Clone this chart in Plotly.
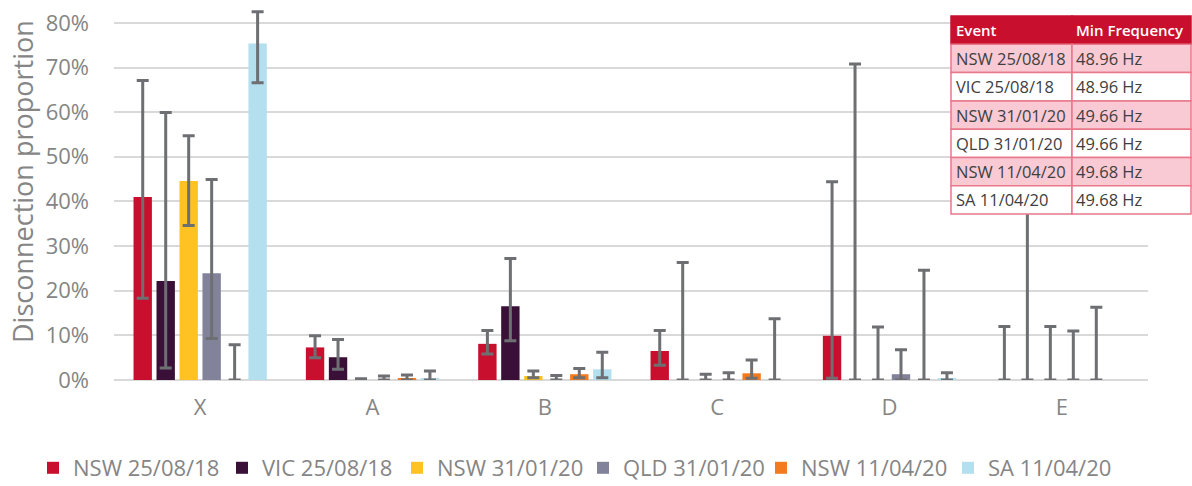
import plotly.graph_objects as go

# ---------------- data ----------------
categories = ["X", "A", "B", "C", "D", "E"]
series_names = ["NSW 25/08/18", "VIC 25/08/18", "NSW 31/01/20",
                "QLD 31/01/20", "NSW 11/04/20", "SA 11/04/20"]
series_colors = ["#C8102E", "#3A1038", "#FFC222", "#82839B", "#F47A20", "#B3DFEE"]

# values (%)  (None = no data)
nsw_250818 = [41.0, 7.3, 8.1, 6.5, 9.9, 0.0]
vic_250818 = [22.2, 5.1, 16.5, 0.0, 0.0, 0.0]
nsw_310120 = [44.6, 0.0, 0.9, 0.0, 0.0, 0.0]
qld_310120 = [23.9, 0.0, 0.0, 0.0, 1.3, 0.0]
nsw_110420 = [0.0, 0.3, 1.3, 1.5, 0.0, 0.0]
sa_110420 = [75.4, 0.3, 2.4, 0.0, 0.4, None]

# upper bounds of error bars (%)
nsw_250818_hi = [67.1, 9.9, 11.1, 11.1, 44.4, 12.0]
vic_250818_hi = [59.9, 9.1, 27.2, 26.3, 70.8, 60.0]
nsw_310120_hi = [54.7, 0.3, 2.0, 1.3, 11.9, 12.0]
qld_310120_hi = [44.9, 0.9, 1.0, 1.6, 6.8, 11.0]
nsw_110420_hi = [7.9, 1.1, 2.6, 4.5, 24.6, 16.3]
sa_110420_hi = [82.5, 2.0, 6.2, 13.7, 1.6, None]

# lower bounds of error bars (%)
nsw_250818_lo = [18.3, 5.0, 5.8, 3.3, 0.4, 0.0]
vic_250818_lo = [2.7, 2.4, 8.8, 0.0, 0.0, 0.0]
nsw_310120_lo = [34.6, 0.0, 0.5, 0.0, 0.0, 0.0]
qld_310120_lo = [9.3, 0.0, 0.0, 0.0, 0.0, 0.0]
nsw_110420_lo = [0.0, 0.0, 0.5, 0.4, 0.0, 0.0]
sa_110420_lo = [66.6, 0.0, 0.5, 0.0, 0.0, None]

values = [nsw_250818, vic_250818, nsw_310120, qld_310120, nsw_110420, sa_110420]
highs = [nsw_250818_hi, vic_250818_hi, nsw_310120_hi, qld_310120_hi, nsw_110420_hi, sa_110420_hi]
lows = [nsw_250818_lo, vic_250818_lo, nsw_310120_lo, qld_310120_lo, nsw_110420_lo, sa_110420_lo]

y_ticks = [0, 10, 20, 30, 40, 50, 60, 70, 80]
y_tick_labels = ["0%", "10%", "20%", "30%", "40%", "50%", "60%", "70%", "80%"]

table_events = series_names
table_freqs = ["48.96 Hz", "48.96 Hz", "49.66 Hz", "49.66 Hz", "49.68 Hz", "49.68 Hz"]

# ---------------- figure ----------------
W, H = 1192, 486
ML, MR, MT, MB = 114, 44, 5, 106
PW, PH = W - ML - MR, H - MT - MB

FONT = "Open Sans"
GREY = "#858585"

def px_x(px):
    return (px - ML) / PW

def px_y(py):
    return (H - MB - py) / PH

legend_widths = [144, 130, 141, 133, 142, 140]

fig = go.Figure()
for name, col, v, hi, lo, lw in zip(series_names, series_colors, values, highs, lows, legend_widths):
    plus = [None if (h is None or val is None) else h - val for h, val in zip(hi, v)]
    minus = [None if (l is None or val is None) else val - l for l, val in zip(lo, v)]
    fig.add_trace(go.Bar(
        name=name, x=categories, y=v, marker=dict(color=col, line=dict(width=0)),
        legendwidth=lw,
        error_y=dict(type="data", symmetric=False, array=plus, arrayminus=minus,
                     color="#6E6F73", thickness=3, width=6),
    ))

fig.update_layout(
    width=W, height=H,
    margin=dict(l=ML, r=MR, t=MT, b=MB, autoexpand=False),
    paper_bgcolor="white", plot_bgcolor="white",
    barmode="group", bargap=0.2, bargroupgap=0.2,
    font=dict(family=FONT, color=GREY, size=22),
    showlegend=True,
    legend=dict(orientation="h", xref="paper", yref="paper",
                x=px_x(33), y=px_y(468), xanchor="left", yanchor="middle",
                font=dict(size=22, color=GREY), itemwidth=30,
                bgcolor="rgba(0,0,0,0)", traceorder="normal"),
    xaxis=dict(showgrid=False, showline=False, ticks="", tickfont=dict(size=22, color=GREY),
               ticklabelstandoff=12),
    yaxis=dict(range=[0, 84], tickmode="array", tickvals=y_ticks, ticktext=y_tick_labels,
               showgrid=True, gridcolor="#D9D9D9", gridwidth=2, zeroline=True,
               zerolinecolor="#D9D9D9", zerolinewidth=2, showline=False, ticks="",
               tickfont=dict(size=22, color=GREY), ticklabelstandoff=24),
)

# ---------------- table (drawn on top) ----------------
tx0, tx1, tdiv = 951, 1191, 1072
row_edges = [16, 44.3, 72.6, 100.9, 129.2, 157.5, 185.8, 214.1]
HEADER = "#C8102E"
PINK = "#F9CAD3"
BORDER = "#E8788A"
TXT = "#404040"

shapes = []
annotations = [dict(text="Disconnection proportion", textangle=-90, xref="paper", yref="paper",
                    x=px_x(22), y=px_y(182), xanchor="center", yanchor="middle",
                    showarrow=False, font=dict(family=FONT, size=27, color=GREY))]
for r in range(7):
    y0, y1 = row_edges[r], row_edges[r + 1]
    if r == 0:
        fill = HEADER
    else:
        fill = PINK if r % 2 == 1 else "white"
    for (cx0, cx1) in [(tx0, tdiv), (tdiv, tx1)]:
        shapes.append(dict(type="rect", xref="paper", yref="paper", layer="above",
                           x0=px_x(cx0), x1=px_x(cx1), y0=px_y(y1), y1=px_y(y0),
                           fillcolor=fill,
                           line=dict(color=HEADER if r == 0 else BORDER, width=1.5)))
    ym = px_y((y0 + y1) / 2)
    if r == 0:
        texts = ["Event", "Min Frequency"]
        fnt = dict(family=FONT, size=15, color="white", weight=600)
    else:
        texts = [table_events[r - 1], table_freqs[r - 1]]
        fnt = dict(family=FONT, size=16.5, color=TXT)
    for t, cx in zip(texts, [tx0 + 3, tdiv + 2]):
        annotations.append(dict(text=t, xref="paper", yref="paper", x=px_x(cx), y=ym,
                                xanchor="left", yanchor="middle", showarrow=False,
                                font=fnt))

fig.update_layout(shapes=shapes, annotations=annotations)

fig.write_html("out.html", config={"displayModeBar": False},
               post_script="document.body.style.margin='0';document.body.style.overflow='hidden';")
